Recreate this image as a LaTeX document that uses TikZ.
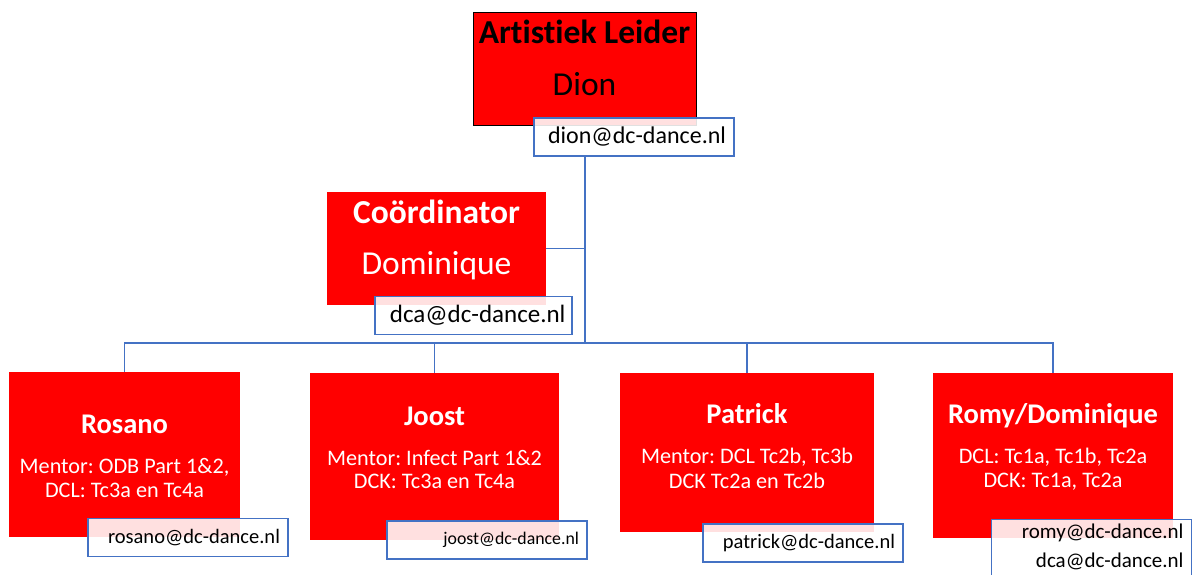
\documentclass[tikz,border=0pt]{standalone}
\usepackage{fontspec}
\setmainfont{Carlito}[Ligatures=NoCommon]
\frenchspacing
\definecolor{boxred}{HTML}{FF0000}
\definecolor{linkblue}{HTML}{4472C4}

\tikzset{
  rolebox/.style={fill=boxred, inner sep=0pt},
  headtxt/.style={anchor=base, font=\bfseries\fontsize{33.5}{33.5}\selectfont},
  subtxt/.style={anchor=base, font=\fontsize{33.5}{33.5}\selectfont},
  nametxt/.style={anchor=base, text=white, font=\bfseries\fontsize{28.5}{28.5}\selectfont},
  tasktxt/.style={anchor=base, text=white, font=\fontsize{22.2}{22.2}\selectfont},
  mailbox/.style={draw=linkblue, line width=1.3pt, fill=white, fill opacity=.88, text opacity=1,
    inner xsep=8pt, inner ysep=0pt, text width=184pt, align=right, minimum height=38pt,
    font=\fontsize{20.5}{29}\selectfont},
  link/.style={draw=linkblue, line width=1.3pt}
}

\begin{document}
\begin{tikzpicture}[x=1pt,y=-1pt]
\useasboundingbox (0,0) rectangle (1193,574);

%%%%%%%%%%%%%-------------leiding
\node[rolebox, draw=black, line width=.8pt, minimum width=223pt, minimum height=113pt] (leider) at (584.5,68.5) {};
\node[headtxt] (leiderT) at (584.5,43) {Artistiek Leider};
\node[subtxt] (dion) at (584.5,95) {Dion};
\node[mailbox, font=\fontsize{24}{24}\selectfont] (dionmail) at (634,137) {dion@dc-dance.nl};

\node[rolebox, minimum width=219pt, minimum height=113pt] (coord) at (436.5,248.5) {};
\node[headtxt, text=white] (coordT) at (436.5,223) {Coördinator};
\node[subtxt, text=white] (dominique) at (436.5,274) {Dominique};
\node[mailbox, inner xsep=6.5pt, text width=184pt, font=\fontsize{25}{25}\selectfont] (dcamail) at (473.5,315.5) {dca@dc-dance.nl};

%%%%%%%%%%%%%-------------docenten
\node[rolebox, minimum width=231pt, minimum height=165pt] (rosano) at (124.5,454.5) {};
\node[nametxt] (rosanoT) at (124.5,433) {Rosano};
\node[tasktxt] (rosanoA) at (124.5,473) {Mentor: ODB Part 1\&2,};
\node[tasktxt] (rosanoB) at (124.5,497) {DCL: Tc3a en Tc4a};
\node[mailbox] (rosanomail) at (188,537.5) {rosano@dc-dance.nl};

\node[rolebox, minimum width=249pt, minimum height=167pt] (joost) at (434.5,456.5) {};
\node[nametxt] (joostT) at (434.5,425) {Joost};
\node[tasktxt] (joostA) at (434.5,465) {Mentor: Infect Part 1\&2};
\node[tasktxt] (joostB) at (434.5,488) {DCK: Tc3a en Tc4a};
\node[mailbox, font=\fontsize{17.8}{20}\selectfont] (joostmail) at (487,540) {joost@dc-dance.nl};

\node[rolebox, minimum width=254pt, minimum height=159pt] (patrick) at (747,452.5) {};
\node[nametxt] (patrickT) at (747,423) {Patrick};
\node[tasktxt] (patrickA) at (747,463) {Mentor: DCL Tc2b, Tc3b};
\node[tasktxt] (patrickB) at (747,488) {DCK Tc2a en Tc2b};
\node[mailbox] (patrickmail) at (803,543) {patrick@dc-dance.nl};

\node[rolebox, minimum width=240pt, minimum height=165pt] (romy) at (1053,455.5) {};
\node[nametxt] (romyT) at (1053,423) {Romy/Dominique};
\node[tasktxt] (romyA) at (1053,463) {DCL: Tc1a, Tc1b, Tc2a};
\node[tasktxt] (romyB) at (1053,487) {DCK: Tc1a, Tc2a};
\node[mailbox, anchor=north, inner ysep=4pt, font=\fontsize{21}{29}\selectfont] (romymail) at (1091.5,519) {romy@dc-dance.nl\\dca@dc-dance.nl\\~};

%%%%%%%%%%%%%-------------lijnen
\coordinate (hub) at (585,343);
\draw[link] (dionmail.south -| hub) -- (hub);
\draw[link] (coord.east) -- (coord.east -| hub);
\draw[link] (rosano.north) |- (hub) -| (romy.north);
\draw[link] (joost.north) -- (joost.north |- hub);
\draw[link] (patrick.north) -- (patrick.north |- hub);

\end{tikzpicture}
\end{document}
